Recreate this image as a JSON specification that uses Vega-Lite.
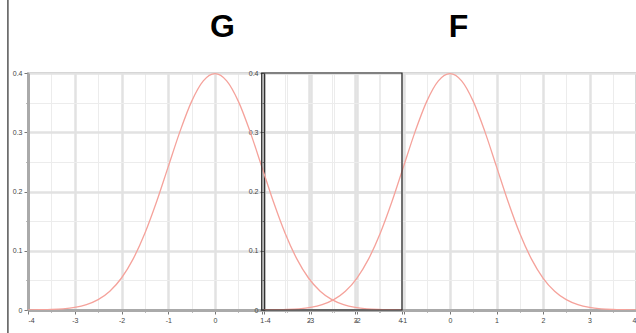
{
  "$schema": "https://vega.github.io/schema/vega-lite/v6.json",
  "autosize": "none",
  "width": 608,
  "height": 237,
  "padding": {"left": 28, "top": 73, "right": 0, "bottom": 23},
  "background": "white",
  "config": {
    "view": {"stroke": "#999999", "strokeWidth": 1.5},
    "font": "Liberation Sans",
    "axis": {
      "labelFontSize": 7,
      "labelColor": "#444444",
      "tickColor": "#777777",
      "tickSize": 4,
      "labelPadding": 2,
      "domainColor": "#aaaaaa",
      "domainWidth": 3,
      "gridColor": "#e4e4e4"
    }
  },
  "datasets": {
    "curve": [
      {"x": -4, "pdf": 0.0001}, {"x": -3.75, "pdf": 0.0004}, {"x": -3.5, "pdf": 0.0009}, {"x": -3.25, "pdf": 0.002},
      {"x": -3, "pdf": 0.0044}, {"x": -2.75, "pdf": 0.0091}, {"x": -2.5, "pdf": 0.0175}, {"x": -2.25, "pdf": 0.0317},
      {"x": -2, "pdf": 0.054}, {"x": -1.75, "pdf": 0.0863}, {"x": -1.5, "pdf": 0.1295}, {"x": -1.25, "pdf": 0.1826},
      {"x": -1, "pdf": 0.242}, {"x": -0.75, "pdf": 0.3011}, {"x": -0.5, "pdf": 0.3521}, {"x": -0.25, "pdf": 0.3867},
      {"x": 0, "pdf": 0.3989},
      {"x": 0.25, "pdf": 0.3867}, {"x": 0.5, "pdf": 0.3521}, {"x": 0.75, "pdf": 0.3011}, {"x": 1, "pdf": 0.242},
      {"x": 1.25, "pdf": 0.1826}, {"x": 1.5, "pdf": 0.1295}, {"x": 1.75, "pdf": 0.0863}, {"x": 2, "pdf": 0.054},
      {"x": 2.25, "pdf": 0.0317}, {"x": 2.5, "pdf": 0.0175}, {"x": 2.75, "pdf": 0.0091}, {"x": 3, "pdf": 0.0044},
      {"x": 3.25, "pdf": 0.002}, {"x": 3.5, "pdf": 0.0009}, {"x": 3.75, "pdf": 0.0004}, {"x": 4, "pdf": 0.0001}
    ]
  },
  "layer": [
    {
      "data": {"name": "curve"},
      "mark": {"type": "line", "color": "#f5a29b", "strokeWidth": 1.3, "interpolate": "monotone", "clip": true},
      "encoding": {
        "x": {
          "field": "x", "type": "quantitative",
          "scale": {"domain": [-4, 4], "range": [0, 374], "nice": false, "zero": false},
          "axis": {
            "orient": "bottom",
            "grid": true,
            "values": [-4, -3.5, -3, -2.5, -2, -1.5, -1, -0.5, 0, 0.5, 1, 1.5, 2, 2.5, 3, 3.5, 4],
            "labelExpr": "datum.value % 1 == 0 ? '' + datum.value : ''",
            "tickSize": {"condition": {"test": "datum.value % 1 == 0", "value": 4}, "value": 2},
            "gridWidth": {"condition": {"test": "datum.value % 1 == 0", "value": 2.5}, "value": 1},
            "gridColor": {"condition": {"test": "datum.value % 1 == 0", "value": "#e2e2e2"}, "value": "#ececec"},
            "title": "G",
            "titleFontSize": 32,
            "titleFontWeight": "bold",
            "titleColor": "black",
            "titleFont": "Liberation Sans",
            "titleBaseline": "alphabetic",
            "titleAnchor": "middle",
            "titleX": 194,
            "titleY": -274
          }
        },
        "y": {
          "field": "pdf", "type": "quantitative",
          "scale": {"domain": [0, 0.4], "nice": false},
          "axis": {
            "grid": true,
            "values": [0, 0.05, 0.1, 0.15, 0.2, 0.25, 0.3, 0.35, 0.4],
            "labelExpr": "(round(datum.value * 100) % 10 == 0) ? format(datum.value, '.1~f') : ''",
            "tickSize": {"condition": {"test": "round(datum.value * 100) % 10 == 0", "value": 4}, "value": 2},
            "gridWidth": {"condition": {"test": "round(datum.value * 100) % 10 == 0", "value": 2.5}, "value": 1},
            "gridColor": {"condition": {"test": "round(datum.value * 100) % 10 == 0", "value": "#e2e2e2"}, "value": "#ececec"},
            "title": null
          }
        }
      }
    },
    {
      "data": {"name": "curve"},
      "mark": {"type": "line", "color": "#f5a29b", "strokeWidth": 1.3, "interpolate": "monotone", "clip": true},
      "encoding": {
        "x": {
          "field": "x", "type": "quantitative",
          "scale": {"domain": [-4, 4], "range": [236, 608], "nice": false, "zero": false},
          "axis": {
            "orient": "bottom",
            "grid": true,
            "values": [-4, -3.5, -3, -2.5, -2, -1.5, -1, -0.5, 0, 0.5, 1, 1.5, 2, 2.5, 3, 3.5, 4],
            "labelExpr": "datum.value % 1 == 0 ? '' + datum.value : ''",
            "tickSize": {"condition": {"test": "datum.value % 1 == 0", "value": 4}, "value": 2},
            "gridWidth": {"condition": {"test": "datum.value % 1 == 0", "value": 2.5}, "value": 1},
            "gridColor": {"condition": {"test": "datum.value % 1 == 0", "value": "#e2e2e2"}, "value": "#ececec"},
            "title": "F",
            "titleFontSize": 32,
            "titleFontWeight": "bold",
            "titleColor": "black",
            "titleFont": "Liberation Sans",
            "titleBaseline": "alphabetic",
            "titleAnchor": "middle",
            "titleX": 430,
            "titleY": -274
          }
        },
        "y": {
          "field": "pdf", "type": "quantitative",
          "scale": {"domain": [0, 0.4], "nice": false},
          "axis": {
            "orient": "left",
            "offset": -236,
            "grid": true,
            "values": [0, 0.05, 0.1, 0.15, 0.2, 0.25, 0.3, 0.35, 0.4],
            "labelExpr": "(round(datum.value * 100) % 10 == 0) ? format(datum.value, '.1~f') : ''",
            "tickSize": {"condition": {"test": "round(datum.value * 100) % 10 == 0", "value": 4}, "value": 2},
            "gridWidth": {"condition": {"test": "round(datum.value * 100) % 10 == 0", "value": 2.5}, "value": 1},
            "gridColor": {"condition": {"test": "round(datum.value * 100) % 10 == 0", "value": "#e2e2e2"}, "value": "#ececec"},
            "domainColor": "#333333",
            "domainWidth": 1.5,
            "title": null
          }
        }
      }
    },
    {
      "data": {"values": [{"x1": 1, "x2": 4, "y1": 0, "y2": 0.4}]},
      "mark": {"type": "rect", "fill": null, "stroke": "#222222", "strokeWidth": 1.2},
      "encoding": {
        "x": {"field": "x1", "type": "quantitative", "scale": {"domain": [-4, 4], "range": [0, 374], "nice": false, "zero": false}, "axis": null},
        "x2": {"field": "x2"},
        "y": {"field": "y1", "type": "quantitative", "scale": {"domain": [0, 0.4], "nice": false}, "axis": null},
        "y2": {"field": "y2"}
      }
    },
    {
      "data": {"values": [{"x": -4.43, "y1": -0.04, "y2": 0.53}]},
      "mark": {"type": "rule", "color": "#555555", "strokeWidth": 1.5, "clip": false},
      "encoding": {
        "x": {"field": "x", "type": "quantitative", "scale": {"domain": [-4, 4], "range": [0, 374], "nice": false, "zero": false}, "axis": null},
        "y": {"field": "y1", "type": "quantitative", "scale": {"domain": [0, 0.4], "nice": false}, "axis": null},
        "y2": {"field": "y2"}
      }
    }
  ],
  "resolve": {"scale": {"x": "independent", "y": "independent"}, "axis": {"x": "independent", "y": "independent"}}
}
